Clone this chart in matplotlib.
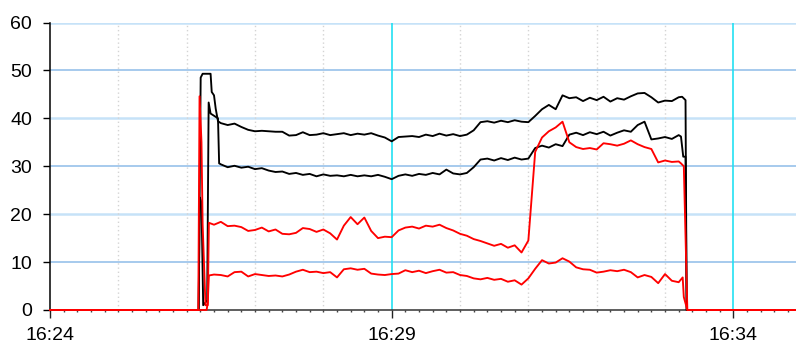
import numpy as np
import matplotlib.pyplot as plt
from matplotlib.ticker import FixedLocator, MultipleLocator

plt.rcParams['font.family'] = ['Liberation Sans', 'DejaVu Sans']

# time axis in seconds after 16:24:00
t_end = 655
tick_secs = [0, 300, 600]
tick_labels = ["16:24", "16:29", "16:34"]

# regular samples (every 6 s) for the steady part of the run
t_body = np.arange(150, 553, 6)

# upper black trace
black_hi_head_t = [0, 130.5, 132.3, 134.0, 141.0, 142.0, 144.0, 145.5, 147.5]
black_hi_head_v = [0, 0, 48.5, 49.3, 49.3, 45.5, 44.8, 42.0, 39.4]
black_hi_body = [
    39.0, 38.6, 38.9, 38.2, 37.6, 37.3, 37.4, 37.3, 37.2, 37.2,
    36.4, 36.5, 37.1, 36.5, 36.6, 36.9, 36.5, 36.7, 36.9, 36.5,
    36.8, 36.6, 36.9, 36.4, 36.0, 35.2, 36.1, 36.2, 36.3, 36.1,
    36.6, 36.3, 36.8, 36.4, 36.7, 36.3, 36.6, 37.5, 39.2, 39.4,
    39.1, 39.5, 39.2, 39.6, 39.3, 39.2, 40.5, 41.9, 42.8, 41.9,
    44.8, 44.2, 44.4, 43.6, 44.3, 43.8, 44.5, 43.5, 44.2, 43.9,
    44.6, 45.2, 45.3, 44.4, 43.3, 43.7, 43.6, 44.4,
]
black_hi_tail_t = [555, 558, 559, t_end]
black_hi_tail_v = [44.5, 43.8, 0, 0]

# lower black trace
black_lo_head_t = [0, 130.5, 131.5, 133.0, 134.5, 138.0, 139.3, 141.0, 147.5, 148.5]
black_lo_head_v = [0, 0, 23.5, 22.5, 1.0, 2.0, 43.3, 41.0, 40.0, 30.6]
black_lo_body = [
    30.4, 29.8, 30.1, 29.7, 29.9, 29.4, 29.6, 29.1, 28.8, 28.9,
    28.4, 28.6, 28.2, 28.4, 27.9, 28.3, 28.0, 28.1, 27.9, 28.2,
    27.9, 28.1, 27.9, 28.2, 27.8, 27.3, 28.0, 28.3, 28.0, 28.4,
    28.2, 28.6, 28.3, 29.3, 28.5, 28.3, 28.6, 29.8, 31.4, 31.6,
    31.2, 31.7, 31.3, 31.8, 31.4, 31.6, 33.8, 34.3, 33.9, 34.6,
    34.2, 36.6, 37.0, 36.5, 37.1, 36.7, 37.2, 36.4, 37.0, 37.5,
    37.2, 38.6, 39.3, 35.6, 35.8, 36.1, 35.7, 36.5,
]
black_lo_tail_t = [554, 556, 558, 559, t_end]
black_lo_tail_v = [36.2, 32.0, 32.0, 0, 0]

# upper red trace
red_hi_head_t = [0, 130.2, 131.3, 133.0, 134.0, 136.5, 138.5, 139.5, 144.0]
red_hi_head_v = [0, 0, 44.6, 35.0, 18.0, 1.0, 1.0, 18.2, 17.8]
red_hi_body = [
    18.4, 17.5, 17.6, 17.3, 16.5, 16.7, 17.2, 16.4, 16.8, 15.9,
    15.8, 16.1, 17.1, 16.9, 16.3, 16.8, 16.0, 14.7, 17.6, 19.4,
    17.9, 19.3, 16.5, 15.0, 15.3, 15.2, 16.6, 17.2, 17.4, 17.0,
    17.6, 17.4, 17.8, 17.1, 16.6, 15.9, 15.5, 14.8, 14.4, 13.9,
    13.4, 13.8, 13.0, 13.5, 12.0, 14.5, 33.0, 36.0, 37.3, 38.1,
    39.3, 35.0, 34.0, 33.6, 33.8, 33.5, 34.8, 34.6, 34.3, 34.7,
    35.4, 34.6, 34.0, 33.6, 30.8, 31.2, 30.9, 31.0,
]
red_hi_tail_t = [554, 556.5, 559.6, t_end]
red_hi_tail_v = [30.6, 30.0, 0, 0]

# lower red trace
red_lo_head_t = [0, 137.5, 138.5, 139.5, 144.0]
red_lo_head_v = [0, 0, 1.5, 7.2, 7.4]
red_lo_body = [
    7.3, 7.0, 7.9, 8.0, 7.0, 7.5, 7.3, 7.1, 7.2, 7.0,
    7.4, 8.0, 8.4, 7.9, 8.0, 7.7, 7.9, 6.8, 8.5, 8.7,
    8.4, 8.6, 7.6, 7.4, 7.3, 7.5, 7.6, 8.3, 7.9, 8.2,
    7.7, 8.1, 8.4, 7.8, 7.9, 7.3, 7.1, 6.6, 6.4, 6.7,
    6.3, 6.5, 5.9, 6.2, 5.3, 6.6, 8.6, 10.4, 9.7, 9.9,
    10.8, 10.1, 8.9, 8.5, 8.4, 7.8, 8.0, 8.3, 8.1, 8.4,
    7.9, 6.8, 7.3, 6.9, 5.6, 7.5, 6.1, 5.8,
]
red_lo_tail_t = [555.5, 556.5, 559.6, t_end]
red_lo_tail_v = [6.8, 2.7, 0, 0]


def series(head_t, head_v, body, tail_t, tail_v):
    t = np.concatenate([head_t, t_body, tail_t])
    v = np.concatenate([head_v, body, tail_v])
    return t, v


fig = plt.figure(figsize=(7.96, 3.49), dpi=100)
ax = fig.add_axes([50 / 796, 39 / 349, 746 / 796, 287.5 / 349])

for head_t, head_v, body, tail_t, tail_v, col in [
    (black_hi_head_t, black_hi_head_v, black_hi_body, black_hi_tail_t, black_hi_tail_v, "black"),
    (black_lo_head_t, black_lo_head_v, black_lo_body, black_lo_tail_t, black_lo_tail_v, "black"),
    (red_hi_head_t, red_hi_head_v, red_hi_body, red_hi_tail_t, red_hi_tail_v, "#ff0000"),
    (red_lo_head_t, red_lo_head_v, red_lo_body, red_lo_tail_t, red_lo_tail_v, "#ff0000"),
]:
    t, v = series(head_t, head_v, body, tail_t, tail_v)
    ax.plot(t, v, color=col, lw=1.35, zorder=3, clip_on=False)

ax.set_xlim(0, t_end)
ax.set_ylim(0, 60)

# axes and ticks
ax.xaxis.set_major_locator(FixedLocator(tick_secs))
ax.set_xticklabels(tick_labels)
ax.xaxis.set_minor_locator(MultipleLocator(12))
ax.yaxis.set_major_locator(MultipleLocator(10))
ax.tick_params(axis="x", which="major", length=5.5, width=1, color="#222222",
               labelsize=14, pad=6.5)
ax.tick_params(axis="x", which="minor", length=1.5, width=1, color="#444444")
ax.tick_params(axis="y", which="major", length=5, width=1, color="black",
               labelsize=14, pad=8)

for s in ["top", "right"]:
    ax.spines[s].set_visible(False)
ax.spines["left"].set_linewidth(1.1)
ax.spines["bottom"].set_color("#333333")
ax.spines["bottom"].set_linewidth(1.1)

# grid
ax.set_axisbelow(True)
for y in [10, 20, 30, 40, 50, 60]:
    if y in (10, 30, 50):
        ax.axhline(y, color="#9fc6ec", lw=1.3, zorder=1)
    else:
        ax.axhline(y, color="#c6e2f8", lw=1.8, zorder=1)
for x in [60, 120, 180, 240, 360, 420, 480, 540]:
    ax.axvline(x, color="#d4d4d4", lw=1.0, ls=(0, (1, 2)), zorder=1)
for x in [300, 600]:
    ax.axvline(x, color="#22e0f2", lw=1.2, zorder=1)

fig.savefig("out.png", dpi=100)
